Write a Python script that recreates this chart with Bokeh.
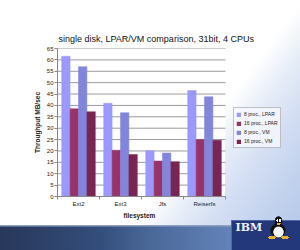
from bokeh.plotting import figure
from bokeh.models import (Range1d, FixedTicker, Legend, LegendItem, ColumnDataSource, Title)
from bokeh.embed import file_html
from bokeh.resources import INLINE

# ---- data ----
title_text = "single disk, LPAR/VM comparison, 31bit, 4 CPUs"
x_title = "filesystem"
y_title = "Throughput MB/sec"
categories = ["Ext2", "Ext3", "Jfs", "Reiserfs"]
series = ["8 proc., LPAR", "16 proc., LPAR", "8 proc., VM", "16 proc., VM"]
lpar8 = [61.6, 40.9, 20.1, 46.5]
lpar16 = [38.5, 20.3, 15.6, 25.0]
vm8 = [57.0, 36.8, 19.1, 43.8]
vm16 = [37.2, 18.4, 15.3, 24.7]
y_ticks = list(range(0, 70, 5))

values = [lpar8, lpar16, vm8, vm16]
colors = ["#9999ff", "#993366", "#8085dd", "#7a2452"]
hatches = [None, None, "crosshatch", "crosshatch"]
hatch_cols = [None, None, "#b8bcff", "#a8507c"]

W, H = 300, 250
L, T, B = 57, 48, 54
PLOT_R = 225            # right edge of the chart's plot area (px)
CAT_PX = (PLOT_R - L) / len(categories)   # px per category
X_END = (W - L) / CAT_PX                  # frame extends to the canvas edge

# ---- slide background (CSS layers behind the transparent canvas) ----
def ell(rx, ry, x, y, c):
    return "radial-gradient(ellipse %spx %spx at %spx %spx, %s 0, %s 88%%, transparent 100%%)" % (rx, ry, x, y, c, c)

def rect(x, y, w, h, c):
    return "linear-gradient(%s, %s) %spx %spx / %spx %spx no-repeat" % (c, c, x, y, w, h)

layers = [
    ell(1.0, 1.4, 277.3, 220.5, "#ffffff"),
    ell(1.0, 1.4, 280.0, 220.5, "#ffffff"),
    ell(2.2, 1.1, 278.6, 223.8, "#f0b020"),
    ell(4.2, 1.8, 272, 237.5, "#f0b020"),
    ell(4.2, 1.8, 285, 237.5, "#f0b020"),
    ell(5.5, 5.8, 278.5, 232, "#f4f4f4"),
    ell(4.2, 5.5, 278.5, 221.5, "#111111"),
    ell(8, 7.5, 278, 230.5, "#111111"),
    rect(231, 219.5, 69, 1, "#5068a8"),
    rect(231, 219.5, 1, 31, "#5068a8"),
    rect(231, 219.5, 69, 31, "#22387a"),
    rect(0, 224.5, 300, 1.5, "#8fa0c0"),
    "linear-gradient(to right, #27375a 0px, #344e7c 100px, #4a6898 150px, #6382b8 230px, #708ec0 300px) 0px 225px / 300px 25px no-repeat",
    rect(L, T, PLOT_R - L, H - B - T, "#ffffff"),   # white plot area
    "linear-gradient(127deg, #ffffff 62%, #e6edf8 70%, #d3def3 78%, #c3d3ee 87%, #b7c9ea 96%)",
]
bg_css = ", ".join(layers)

p = figure(width=W, height=H, output_backend="svg", toolbar_location=None,
           x_range=Range1d(0, X_END), y_range=Range1d(0, 65),
           min_border_left=L, min_border_right=0, min_border_top=T,
           min_border_bottom=B, background_fill_color=None,
           border_fill_color=None, outline_line_color=None,
           styles={"background": bg_css})

# horizontal grid lines, limited to the category extent
p.xgrid.grid_line_color = None
p.ygrid.grid_line_color = None
p.segment(x0=[0] * len(y_ticks), x1=[len(categories)] * len(y_ticks),
          y0=y_ticks, y1=y_ticks, line_color="#9a9a9a", line_width=1)

renderers = []
for j in range(len(series)):
    xs = [i + 0.2 + 0.2 * j for i in range(len(categories))]
    src = ColumnDataSource(dict(x=xs, top=values[j]))
    kw = dict(x="x", top="top", width=0.2, source=src, fill_color=colors[j],
              line_color=colors[j], line_width=0.5)
    if hatches[j]:
        kw.update(hatch_pattern=hatches[j], hatch_color=hatch_cols[j],
                  hatch_scale=2.5, hatch_weight=0.6, hatch_alpha=0.6)
    renderers.append(p.vbar(**kw))

p.yaxis.ticker = FixedTicker(ticks=y_ticks)
p.xaxis.ticker = FixedTicker(ticks=[i + 0.5 for i in range(len(categories))],
                             minor_ticks=list(range(len(categories) + 1)))
p.xaxis.major_label_overrides = {i + 0.5: c for i, c in enumerate(categories)}
p.xaxis.bounds = (0, len(categories))

for ax in (p.xaxis, p.yaxis):
    ax.axis_line_color = "#888888"
    ax.major_tick_line_color = "#888888"
    ax.minor_tick_line_color = "#888888"
    ax.major_label_text_font = "Liberation Sans"
    ax.major_label_text_font_size = "6px"
    ax.major_label_text_color = "#222222"
    ax.axis_label_text_font = "Liberation Sans"
    ax.axis_label_text_font_size = "6.5px"
    ax.axis_label_text_font_style = "bold"
    ax.axis_label_text_color = "#222222"

p.yaxis.minor_tick_line_color = None
p.yaxis.major_tick_in = 0
p.yaxis.major_tick_out = 3
p.yaxis.major_label_standoff = 1
p.yaxis.axis_label = y_title
p.yaxis.axis_label_standoff = 3

p.xaxis.major_tick_in = 0
p.xaxis.major_tick_out = 0
p.xaxis.minor_tick_in = 0
p.xaxis.minor_tick_out = 3
p.xaxis.major_label_standoff = 1

# x-axis title, placed under the category extent
p.add_layout(Title(text=x_title, align="left", offset=123 - L, standoff=0,
                   text_font="Liberation Sans", text_font_size="6.5px",
                   text_font_style="bold", text_color="#222222"), "below")

legend = Legend(items=[LegendItem(label=s, renderers=[r]) for s, r in zip(series, renderers)],
                location=(233 - L, 48), orientation="vertical",
                label_text_font="Liberation Sans", label_text_font_size="5px",
                label_text_color="#222222", glyph_width=5, glyph_height=5,
                label_height=8, label_standoff=3, spacing=1, padding=2, margin=0,
                border_line_color="#888888", border_line_width=1,
                background_fill_color="#f6f8fc", background_fill_alpha=0.8)
p.add_layout(legend, "center")

# chart title
p.title = Title(text=title_text, align="left", offset=1, standoff=10,
                text_font="Liberation Sans", text_font_size="9px",
                text_font_style="normal", text_color="#111111")

# IBM logo text in the bottom band
p.add_layout(Title(text="IBM", align="left", offset=178, standoff=0,
                   text_font="DejaVu Serif", text_font_size="11px",
                   text_font_style="bold", text_color="#eef2fa"), "below")

open("out.html", "w").write(file_html(p, INLINE))
